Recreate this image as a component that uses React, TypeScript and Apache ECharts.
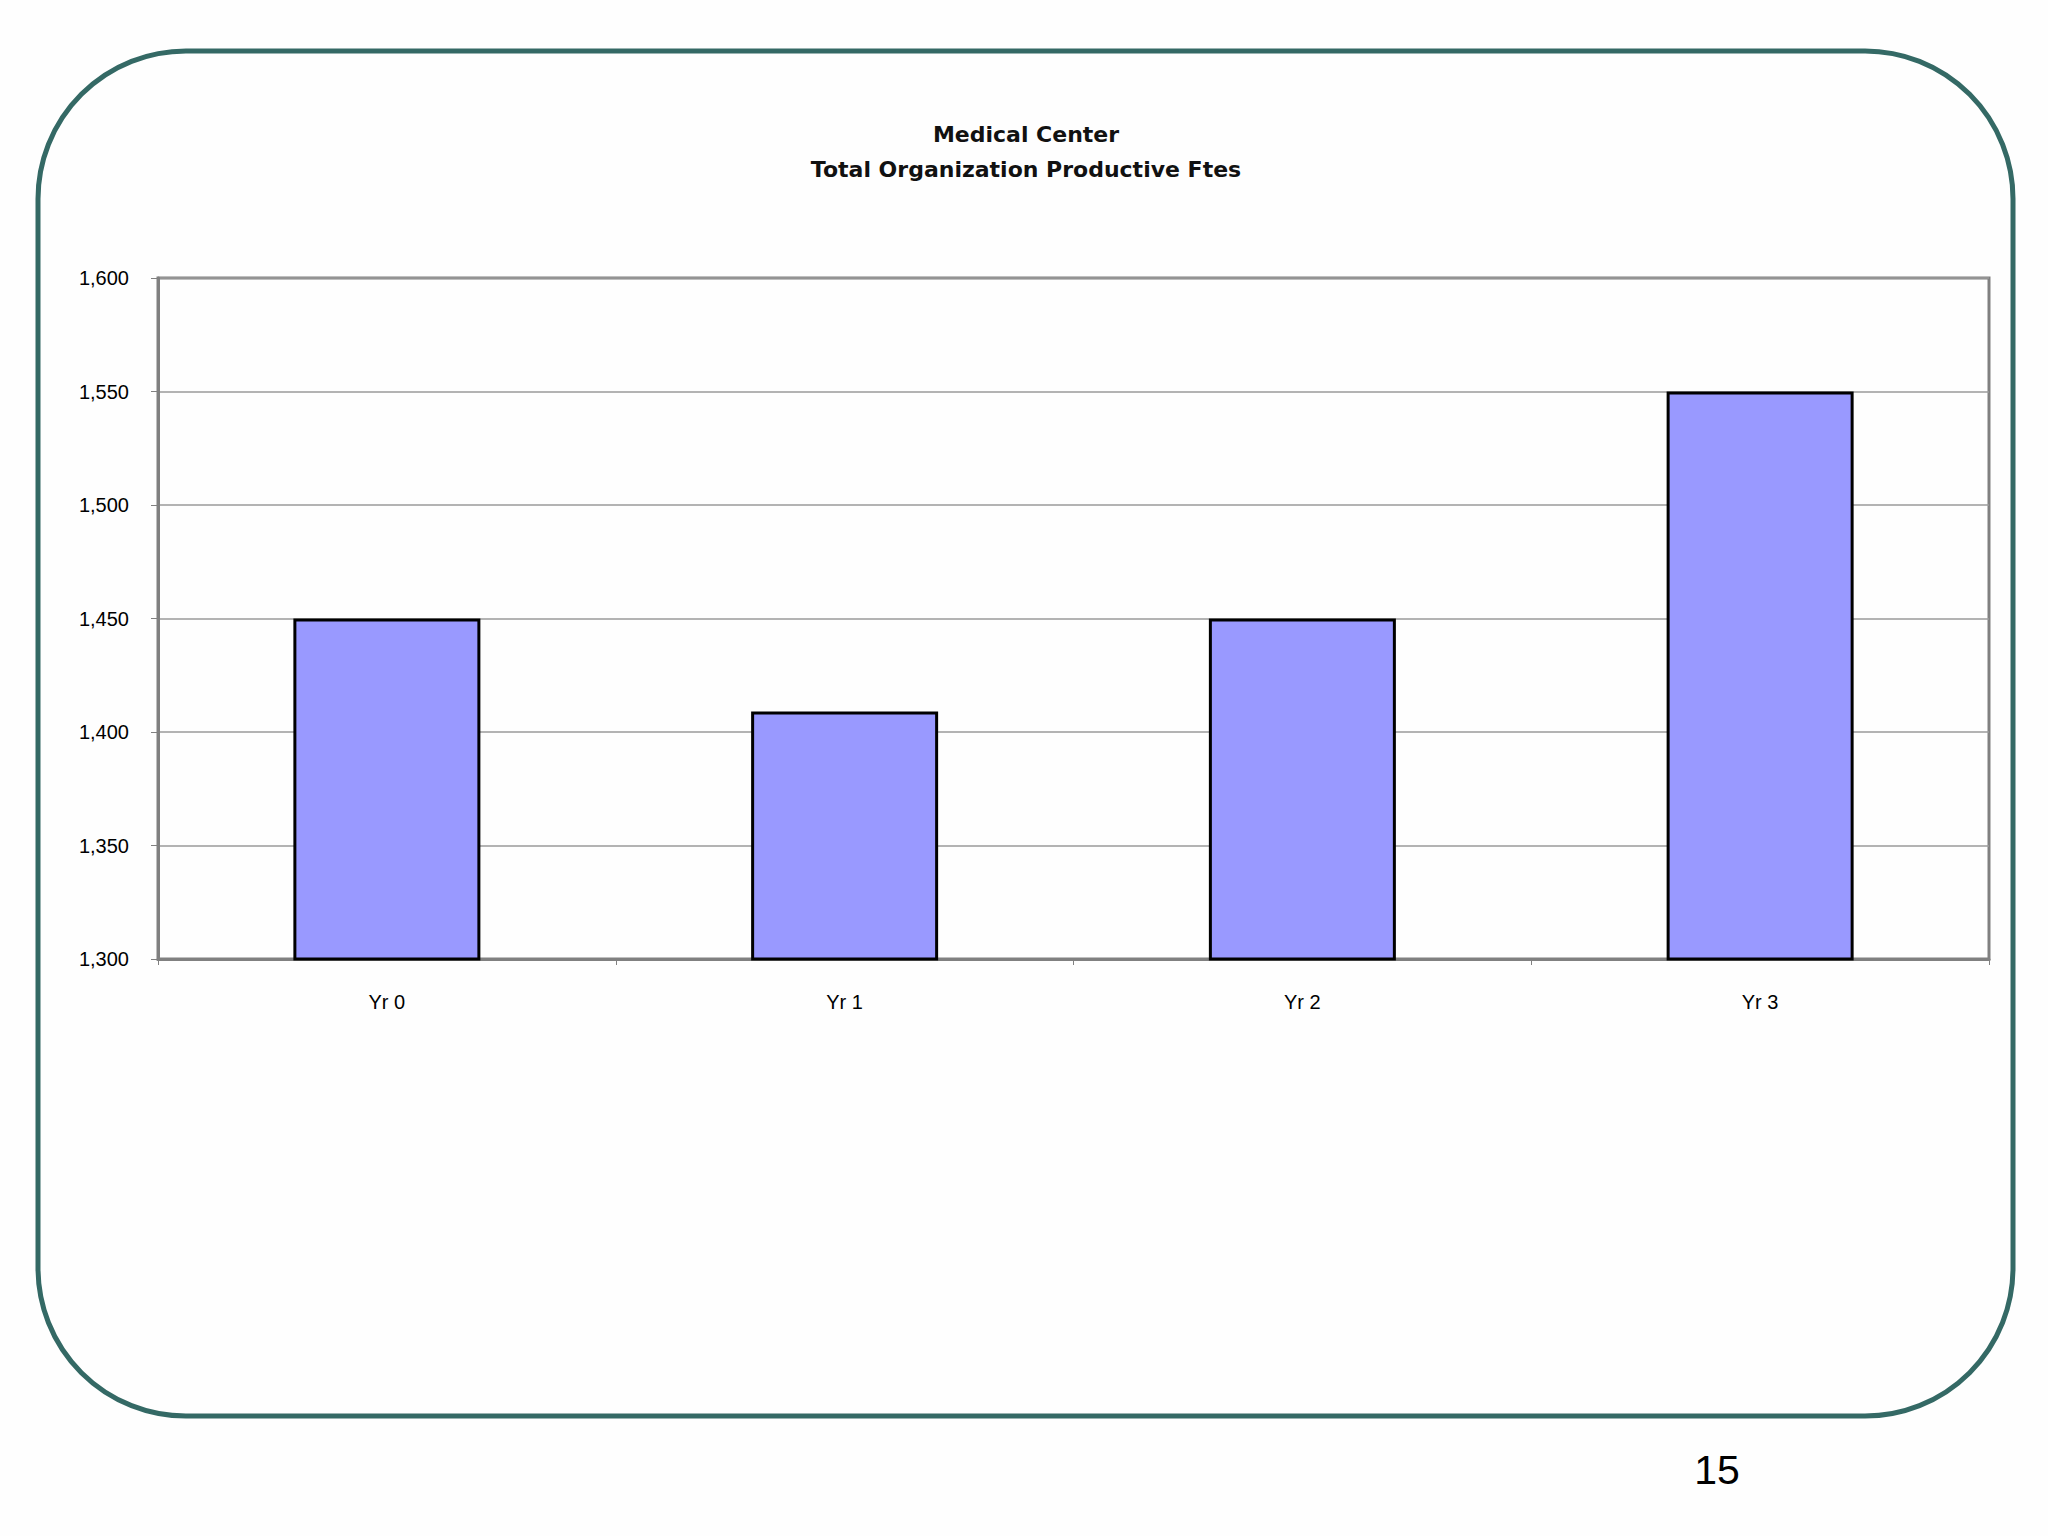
import React, { useEffect, useRef } from "react";
import * as echarts from "echarts";

const categories = ["Yr 0", "Yr 1", "Yr 2", "Yr 3"];
const ftes = [1450, 1409, 1450, 1550];
const titleLines = ["Medical Center", "Total Organization Productive Ftes"];
const pageNumber = "15";

export default function App() {
  const ref = useRef<HTMLDivElement>(null);
  useEffect(() => {
    if (!ref.current) return;
    const chart = echarts.init(ref.current, null, { renderer: "svg" });
    chart.setOption({
      animation: false,
      backgroundColor: "#fefefe",
      title: {
        text: titleLines.join("\n"),
        left: 1021,
        top: 112,
        textAlign: "center",
        textStyle: {
          fontFamily: "DejaVu Sans",
          fontWeight: "bold",
          fontSize: 22,
          lineHeight: 35,
          color: "#111",
        },
      },
      graphic: [
        {
          type: "rect",
          z: -1,
          shape: { x: 38, y: 51, width: 1975, height: 1365, r: 148 },
          style: { fill: "none", stroke: "#346965", lineWidth: 5 },
        },
        {
          type: "text",
          x: 1717,
          y: 1470,
          style: {
            text: pageNumber,
            fontFamily: "Liberation Sans",
            fontSize: 41,
            fill: "#000",
            align: "center",
            verticalAlign: "middle",
          },
        },
      ],
      grid: {
        left: 158,
        top: 278,
        right: 59,
        bottom: 577,
        show: true,
        borderColor: "#808080",
        borderWidth: 3,
        backgroundColor: "transparent",
      },
      xAxis: {
        type: "category",
        data: categories,
        axisLine: { show: true, lineStyle: { color: "#808080", width: 3 } },
        axisTick: { show: true, length: 6, lineStyle: { color: "#808080", width: 1 } },
        axisLabel: {
          margin: 33,
          fontFamily: "Liberation Sans",
          fontSize: 20,
          color: "#000",
        },
      },
      yAxis: {
        type: "value",
        min: 1300,
        max: 1600,
        interval: 50,
        axisLine: { show: true, lineStyle: { color: "#808080", width: 3 } },
        axisTick: { show: true, length: 7, lineStyle: { color: "#808080", width: 1 } },
        splitLine: { show: true, lineStyle: { color: "#9a9a9a", width: 1.5 } },
        axisLabel: {
          margin: 29,
          fontFamily: "Liberation Sans",
          fontSize: 20,
          color: "#000",
          formatter: (v: number) => v.toLocaleString("en-US"),
        },
      },
      series: [
        {
          type: "bar",
          data: ftes,
          barWidth: 187,
          itemStyle: { color: "#9999ff", borderColor: "#000", borderWidth: 3 },
        },
      ],
    });
    return () => chart.dispose();
  }, []);
  return (
    <div
      ref={ref}
      style={{ position: "absolute", left: 0, top: 0, width: 2048, height: 1536 }}
    />
  );
}
